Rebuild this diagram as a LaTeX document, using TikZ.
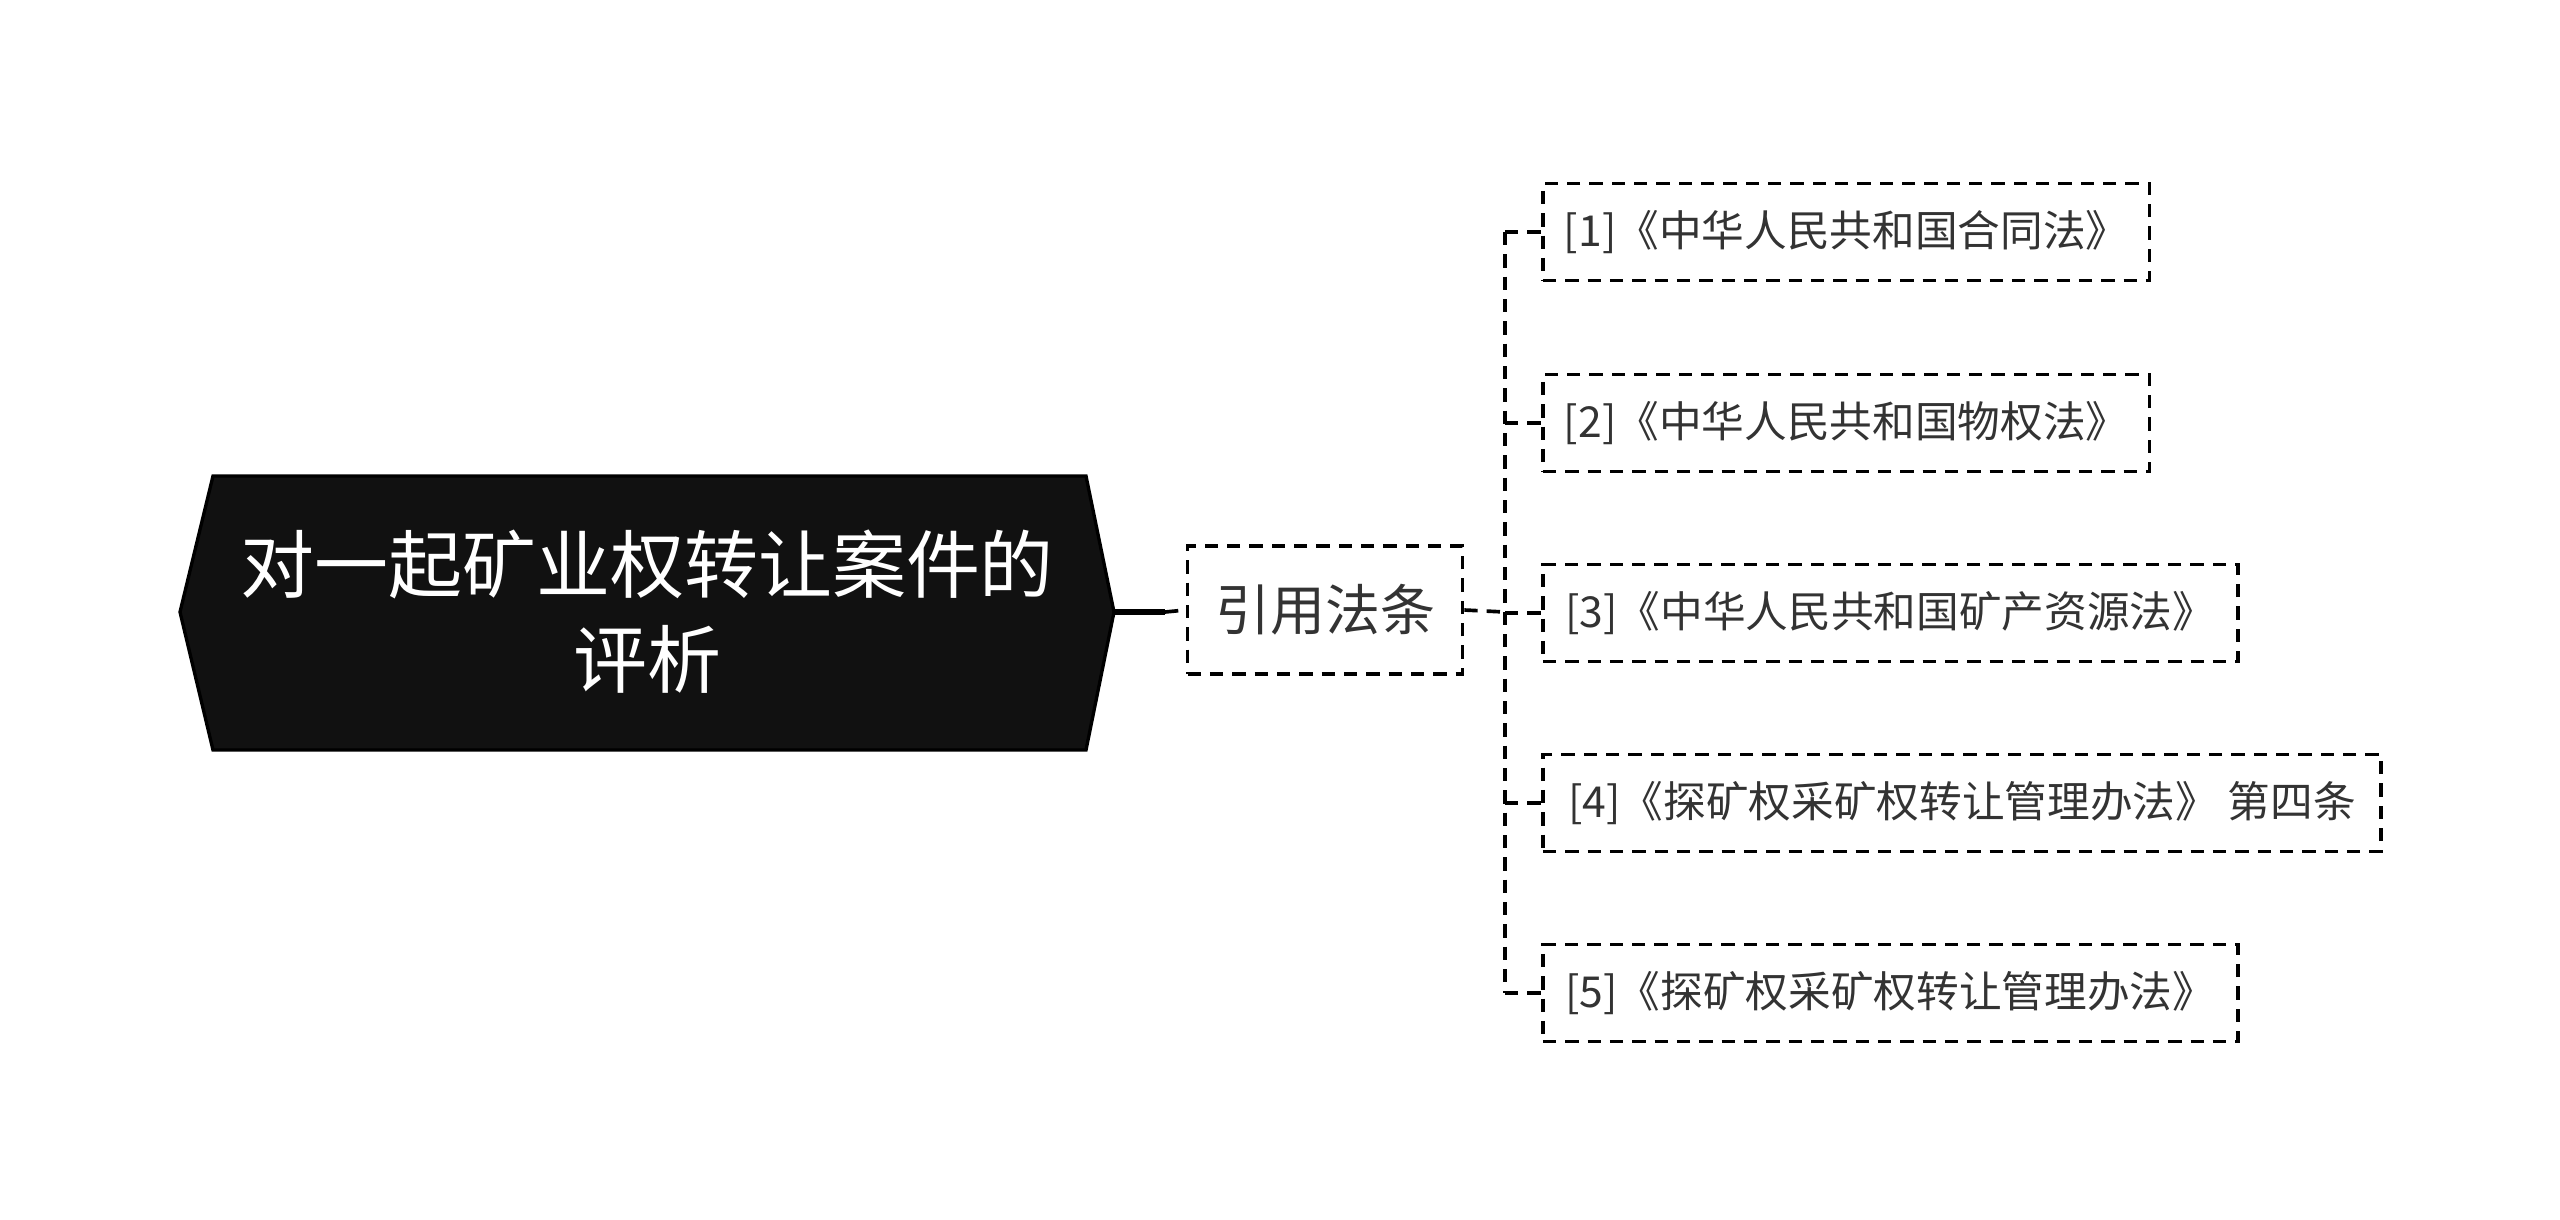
\documentclass[tikz,border=0pt]{standalone}
\usepackage{fontspec}
\setmainfont{Noto Sans CJK SC}
\usepackage{tikz}
\usetikzlibrary{positioning,calc}
\definecolor{rootfill}{HTML}{111111}
\definecolor{lawtext}{HTML}{333333}

\begin{document}
\begin{tikzpicture}[x=0.3pt,y=-0.3pt,
  link/.style={line width=1.1pt,dash pattern=on 4pt off 2.7pt},
  citebox/.style={link,draw=black,text=lawtext,font=\fontsize{16.5}{20}\selectfont,minimum width=82.5pt,minimum height=38.4pt,inner sep=0pt},
  lawbox/.style={link,draw=black,text=lawtext,font=\fontsize{12.8}{16}\selectfont,minimum height=29.1pt,inner sep=0pt,anchor=west}]
\useasboundingbox (0,0) rectangle (2560,1219);
% root
\coordinate (rootL) at (180,612);
\coordinate (rootR) at (1114,612);
\filldraw[fill=rootfill,draw=black,line width=1pt] (rootL) -- (213,476) -- (1086,476) -- (rootR) -- (1086,750) -- (213,750) -- cycle;
\node[text=white,align=center,font=\fontsize{22.2}{28.5}\selectfont] (root) at (647,612) {对一起矿业权转让案件的\\评析};
% middle
\node[citebox] (cite) at (1325,610) {引用法条};
\coordinate (bend) at (1165,612);
\draw[line width=1.8pt] (rootR) -- (bend);
\draw[link] (bend) -- (cite.west);
\coordinate (trunk) at (1505,612);
\draw[link] (cite.east) -- (trunk);
% children
\node[lawbox,minimum width=182pt] (law1) at (1541,232) {[1]《中华人民共和国合同法》};
\node[lawbox,minimum width=182pt] (law2) at (1541,423) {[2]《中华人民共和国物权法》};
\node[lawbox,minimum width=208.5pt] (law3) at (1541,613) {[3]《中华人民共和国矿产资源法》};
\node[lawbox,minimum width=251.5pt] (law4) at (1541,803) {[4]《探矿权采矿权转让管理办法》 第四条};
\node[lawbox,minimum width=208.5pt] (law5) at (1541,993) {[5]《探矿权采矿权转让管理办法》};
\draw[link] (trunk |- law1.west) -- (trunk |- law5.west);
\foreach \i in {1,...,5}
  \draw[link] (trunk |- law\i.west) -- (law\i.west);
\end{tikzpicture}
\end{document}
